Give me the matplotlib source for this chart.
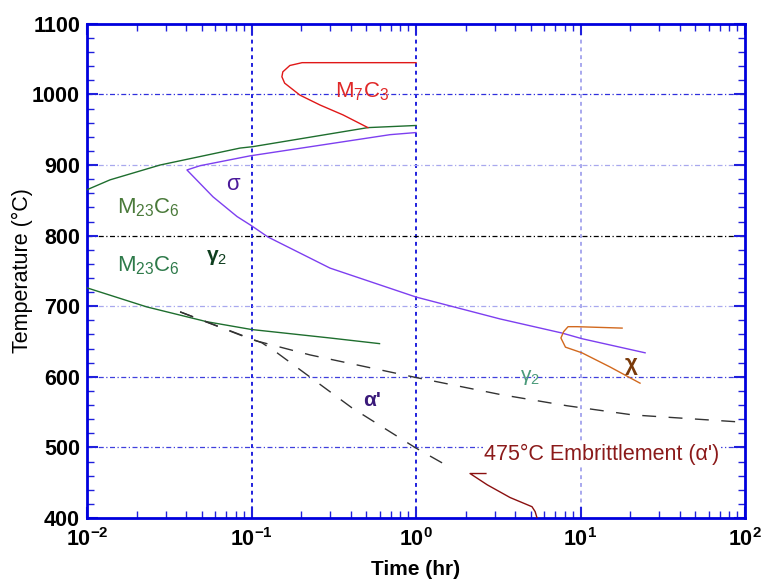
import numpy as np
import matplotlib.pyplot as plt
from matplotlib.ticker import FixedLocator, LogLocator, NullFormatter

plt.rcParams['font.family'] = ['Liberation Sans', 'DejaVu Sans']
plt.rcParams['mathtext.fontset'] = 'custom'
plt.rcParams['mathtext.rm'] = 'Liberation Sans'
plt.rcParams['mathtext.it'] = 'Liberation Sans:italic'
plt.rcParams['mathtext.bf'] = 'Liberation Sans:bold'

# curves (time in hr, temperature in C)
m23c6_up_t = [0.01, 0.0138, 0.0278, 0.0851, 0.1017, 0.51, 1.0]
m23c6_up_T = [865, 879, 900, 924, 926, 953, 956]

sigma_t = [1.0, 0.695, 0.098, 0.0486, 0.0405, 0.0583, 0.0817, 0.1, 0.126, 0.30, 1.0, 3.24, 7.72, 10.2, 24.7]
sigma_T = [946, 943, 913, 899, 893, 855, 827, 814, 798, 754, 713, 682, 662, 654, 634]

m7c3_t = [1.0, 0.203, 0.171, 0.155, 0.153, 0.159, 0.197, 0.261, 0.360, 0.51]
m7c3_T = [1045, 1045, 1041, 1032, 1025, 1016, 999, 985, 971, 953]

m23c6_lo_t = [0.01, 0.0231, 0.0536, 0.1, 0.30, 0.60]
m23c6_lo_T = [726, 699, 678, 667, 655, 647]

gamma2_t = [0.0368, 0.1026, 0.227, 1.0, 3.24, 8.28, 20.8, 93, 100]
gamma2_T = [692, 652, 631, 599, 575, 559, 546, 536, 536]

alpha_t = [0.0368, 0.116, 0.143, 0.408, 1.0, 1.66]
alpha_T = [692, 648, 634, 556, 499, 470]

embr_t = [2.66, 2.13, 2.71, 3.73, 5.07, 5.3, 5.44]
embr_T = [463, 463, 447, 429, 416, 409, 400]

chi_t = [17.9, 9.53, 8.4, 7.9, 7.6, 8.1, 10.2, 15.1, 23.0]
chi_T = [669, 671, 671, 664, 655, 642, 634, 614, 591]

xtick_vals = [0.01, 0.1, 1, 10, 100]
xtick_labels = ['$\\mathbf{10^{-2}}$', '$\\mathbf{10^{-1}}$', '$\\mathbf{10^{0}}$',
                '$\\mathbf{10^{1}}$', '$\\mathbf{10^{2}}$']

fig = plt.figure(figsize=(7.66, 5.80), dpi=100)
ax = fig.add_axes([0.1136, 0.1069, 0.859, 0.852])
ax.set_xscale('log')
ax.set_xlim(0.01, 100)
ax.set_ylim(400, 1100)

# grid lines
vgrid = [(0.1, '#2020dd'), (1.0, '#2020dd'), (10.0, '#a8a8ee')]
for xv, c in vgrid:
    ax.axvline(xv, color=c, lw=1.4, ls=(0, (2, 2)), zorder=1)
hgrid = [(1000, '#3030dd'), (900, '#a8a8ee'), (800, 'black'), (700, '#a8a8ee'),
         (600, '#4040dd'), (500, '#4040dd')]
for yv, c in hgrid:
    ax.axhline(yv, color=c, lw=0.9, ls=(0, (4, 2, 1, 2)), zorder=1)

ax.plot(m23c6_up_t, m23c6_up_T, color='#1e6e2e', lw=1.0, zorder=3)
ax.plot(sigma_t, sigma_T, color='#7d3ff0', lw=1.0, zorder=3)
ax.plot(m7c3_t, m7c3_T, color='#e01818', lw=1.0, zorder=3)
ax.plot(m23c6_lo_t, m23c6_lo_T, color='#1e6e2e', lw=1.0, zorder=3)
ax.plot(gamma2_t, gamma2_T, color='#333333', lw=1.0, dashes=(10, 9), zorder=3)
ax.plot(alpha_t, alpha_T, color='#333333', lw=1.0, dashes=(10, 9), zorder=3)
ax.plot(chi_t, chi_T, color='#d2691e', lw=1.0, zorder=3)
ax.plot(embr_t, embr_T, color='#8b1010', lw=1.0, zorder=3)

# labels
ax.text(0.47, 1004, 'M$_7$C$_3$', color='#e02828', fontsize=16, ha='center', va='center')
ax.text(0.077, 872, '\u03c3', color='#4b1a9a', fontsize=16, ha='center', va='center')
ax.text(0.0235, 839, 'M$_{23}$C$_6$', color='#4a7a3a', fontsize=16, ha='center', va='center')
ax.text(0.0235, 757, 'M$_{23}$C$_6$', color='#2e7a4a', fontsize=16, ha='center', va='center')
ax.text(0.0616, 769, '\u03b3$_2$', color='#0e3e1e', fontsize=15, fontweight='bold', ha='center', va='center')
ax.text(0.54, 567, "\u03b1'", color='#3a1a7a', fontsize=15, fontweight='bold', ha='center', va='center')
ax.text(4.93, 599, '\u03b3$_2$', color='#4a9a7a', fontsize=15, ha='center', va='center')
ax.text(20.3, 618, '\u03c7', color='#7a3a0a', fontsize=16, fontweight='bold', ha='center', va='center')
ax.text(13.5, 490, "475\u00b0C Embrittlement (\u03b1')", color='#8b1a1a', fontsize=15.5,
        ha='center', va='center', zorder=4,
        bbox=dict(facecolor='white', edgecolor='none', pad=1))

# axes styling
for s in ax.spines.values():
    s.set_color('#0000dd')
    s.set_linewidth(2)
ax.xaxis.set_major_locator(FixedLocator(xtick_vals))
ax.xaxis.set_minor_locator(LogLocator(base=10, subs=np.arange(2, 10)))
ax.xaxis.set_minor_formatter(NullFormatter())
ax.set_xticklabels(xtick_labels)
ax.set_yticks(np.arange(400, 1101, 100))
ax.set_yticks(np.arange(400, 1101, 20), minor=True)
ax.tick_params(which='both', direction='in', top=True, right=True, color='#2020dd',
               labelsize=15.5)
ax.tick_params(axis='y', pad=5)
ax.tick_params(axis='x', pad=7)
ax.tick_params(which='major', length=8, width=1.5)
ax.tick_params(which='minor', length=5, width=1.0)
for lab in ax.get_yticklabels():
    lab.set_fontweight('bold')
ax.set_xlabel('Time (hr)', fontsize=15, fontweight='bold', labelpad=7)
ax.set_ylabel('Temperature (\u00b0C)', fontsize=15.5)
ax.yaxis.set_label_coords(-0.082, 0.5)

fig.savefig('out.png', dpi=100)
